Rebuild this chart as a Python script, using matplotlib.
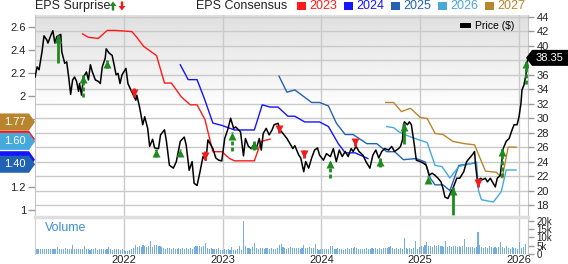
import numpy as np
import matplotlib
matplotlib.use('Agg')
from matplotlib import pyplot as plt
from matplotlib.patches import Polygon, Patch
from matplotlib.transforms import IdentityTransform, offset_copy, blended_transform_factory

plt.rcParams['font.family'] = ['Liberation Sans', 'DejaVu Sans']

# ---- data (decimal years) ----
price_t = [2021.10, 2021.12, 2021.14, 2021.17, 2021.19, 2021.22, 2021.23, 2021.26, 2021.28, 2021.30,
           2021.32, 2021.36, 2021.37, 2021.40, 2021.42, 2021.44, 2021.46, 2021.48, 2021.50, 2021.52,
           2021.54, 2021.55, 2021.57, 2021.59, 2021.62, 2021.64, 2021.66, 2021.68, 2021.71, 2021.74,
           2021.76, 2021.78, 2021.81, 2021.82, 2021.85, 2021.88, 2021.90, 2021.92, 2021.94, 2021.96,
           2021.98, 2022.02, 2022.04, 2022.07, 2022.12, 2022.13, 2022.16, 2022.19, 2022.21, 2022.24,
           2022.26, 2022.29, 2022.31, 2022.35, 2022.37, 2022.41, 2022.43, 2022.46, 2022.50, 2022.53,
           2022.57, 2022.61, 2022.63, 2022.66, 2022.69, 2022.71, 2022.74, 2022.77, 2022.80, 2022.83,
           2022.85, 2022.88, 2022.90, 2022.93, 2022.96, 2022.99, 2023.02, 2023.05, 2023.08, 2023.11,
           2023.13, 2023.16, 2023.18, 2023.21, 2023.23, 2023.26, 2023.29, 2023.32, 2023.34, 2023.37,
           2023.39, 2023.41, 2023.44, 2023.47, 2023.50, 2023.52, 2023.56, 2023.58, 2023.61, 2023.65,
           2023.68, 2023.71, 2023.73, 2023.77, 2023.79, 2023.82, 2023.84, 2023.87, 2023.90, 2023.93,
           2023.96, 2023.98, 2024.02, 2024.05, 2024.09, 2024.12, 2024.15, 2024.18, 2024.21, 2024.24,
           2024.27, 2024.30, 2024.32, 2024.35, 2024.38, 2024.42, 2024.45, 2024.49, 2024.52, 2024.55,
           2024.58, 2024.61, 2024.64, 2024.68, 2024.71, 2024.74, 2024.78, 2024.80, 2024.82, 2024.83,
           2024.84, 2024.87, 2024.89, 2024.91, 2024.94, 2024.96, 2025.00, 2025.03, 2025.06, 2025.09,
           2025.12, 2025.15, 2025.18, 2025.21, 2025.23, 2025.25, 2025.28, 2025.31, 2025.33, 2025.37,
           2025.40, 2025.44, 2025.47, 2025.50, 2025.53, 2025.55, 2025.56, 2025.58, 2025.61, 2025.63,
           2025.66, 2025.68, 2025.71, 2025.73, 2025.76, 2025.78, 2025.81, 2025.82, 2025.84, 2025.87,
           2025.90, 2025.93, 2025.95, 2025.98, 2026.00, 2026.02, 2026.03, 2026.05, 2026.07, 2026.09]
price_v = [35.7, 37.1, 36.7, 39.2, 41.4, 40.8, 40.4, 41.5, 42.1, 40.4,
           41.3, 41.6, 39.2, 37.6, 37.8, 35.7, 33.3, 35.3, 35.7, 35.1,
           33.7, 34.8, 33.2, 35.7, 36.4, 35.3, 37.4, 36.4, 35.3, 35.1,
           34.8, 37.1, 38.3, 39.6, 39.0, 38.7, 37.4, 36.0, 36.2, 34.8,
           36.0, 36.9, 34.8, 33.9, 32.5, 33.2, 31.4, 29.1, 30.2, 28.6,
           26.1, 27.1, 25.9, 25.8, 27.7, 28.4, 26.8, 23.5, 23.1, 24.0,
           26.8, 27.4, 26.3, 22.8, 24.0, 21.0, 20.7, 22.6, 24.7, 24.2,
           27.0, 26.3, 25.8, 24.5, 24.2, 24.1, 27.2, 28.4, 30.0, 28.6,
           28.8, 28.4, 28.1, 24.8, 27.2, 26.1, 25.8, 26.5, 25.8, 27.2,
           25.6, 27.9, 28.6, 27.7, 28.4, 29.1, 29.3, 28.4, 27.9, 27.2,
           26.5, 25.8, 26.2, 24.9, 24.5, 22.6, 24.0, 23.1, 24.5, 25.6,
           25.9, 24.9, 24.2, 25.1, 24.7, 25.8, 24.0, 25.6, 24.7, 25.4,
           24.7, 25.8, 25.4, 26.1, 25.4, 24.9, 24.0, 23.1, 24.9, 25.6,
           24.5, 25.4, 25.8, 25.6, 26.1, 25.4, 25.8, 26.1, 27.0, 29.1,
           29.5, 29.1, 29.5, 29.1, 26.3, 24.2, 24.0, 23.8, 23.5, 22.1,
           22.4, 22.1, 21.7, 21.2, 20.3, 19.1, 18.9, 19.8, 20.3, 21.7,
           21.7, 22.6, 24.0, 24.5, 25.0, 25.4, 23.5, 21.2, 21.7, 21.5,
           21.7, 21.2, 21.7, 21.2, 20.5, 21.7, 22.1, 23.3, 25.8, 26.8,
           27.2, 28.4, 29.1, 29.1, 30.2, 32.1, 33.9, 34.6, 36.0, 38.35]
last_price = 38.35

cons_years = ['2023', '2024', '2025', '2026', '2027']
cons_colors = ['#ff1a1a', '#1414ff', '#2262b4', '#45a9dc', '#b8852e']
eps23_t = [2021.58, 2021.64, 2021.74, 2021.83, 2021.91, 2022.08, 2022.13, 2022.20, 2022.33, 2022.41, 2022.48,
           2022.58, 2022.67, 2022.74, 2022.82, 2022.90, 2022.99, 2023.07, 2023.12, 2023.32, 2023.39, 2023.48]
eps23_v = [2.54, 2.51, 2.50, 2.57, 2.57, 2.56, 2.51, 2.43, 2.35, 2.11, 2.11,
           1.99, 1.92, 1.92, 1.79, 1.51, 1.51, 1.45, 1.43, 1.43, 1.60, 1.62]
eps24_t = [2022.57, 2022.65, 2022.74, 2022.82, 2022.90, 2022.99, 2023.12, 2023.32, 2023.40, 2023.48,
           2023.56, 2023.66, 2023.73, 2023.83, 2023.98, 2024.07, 2024.17, 2024.24, 2024.34, 2024.47]
eps24_v = [2.27, 2.14, 2.14, 1.96, 1.76, 1.74, 1.70, 1.70, 1.92, 1.90,
           1.90, 1.82, 1.82, 1.77, 1.77, 1.73, 1.58, 1.50, 1.50, 1.45]
eps25_t = [2023.57, 2023.65, 2023.73, 2023.90, 2023.98, 2024.07, 2024.15, 2024.24, 2024.32, 2024.46, 2024.56,
           2024.66, 2024.74, 2024.83, 2024.96, 2025.05, 2025.10, 2025.15, 2025.23, 2025.30, 2025.39, 2025.55]
eps25_v = [2.17, 2.03, 2.05, 1.94, 1.94, 1.91, 1.76, 1.66, 1.66, 1.58, 1.58,
           1.51, 1.51, 1.44, 1.45, 1.42, 1.28, 1.22, 1.22, 1.17, 1.39, 1.41]
eps26_t = [2024.66, 2024.73, 2024.79, 2024.90, 2025.00, 2025.07, 2025.15, 2025.22, 2025.30, 2025.39,
           2025.57, 2025.59, 2025.62, 2025.74, 2025.82, 2025.87, 2025.97]
eps26_v = [1.73, 1.72, 1.68, 1.64, 1.61, 1.59, 1.39, 1.38, 1.28, 1.38,
           1.42, 1.17, 1.09, 1.07, 1.16, 1.35, 1.35]
eps27_t = [2024.65, 2024.73, 2024.81, 2024.90, 2025.00, 2025.07, 2025.15, 2025.23, 2025.33, 2025.45,
           2025.55, 2025.66, 2025.77, 2025.83, 2025.89, 2025.97]
eps27_v = [1.94, 1.94, 1.86, 1.89, 1.81, 1.80, 1.67, 1.66, 1.60, 1.58,
           1.57, 1.34, 1.33, 1.28, 1.55, 1.55]
# current consensus flags
flag_vals = [1.62, 1.60, 1.44, 1.40, 1.77]       # 2023, 2026, 2024, 2025, 2027 (draw order)
flag_cols = ['#ff1a1a', '#45a9dc', '#1414ff', '#2262b4', '#b8852e']
flag_text = ['', '1.60', '', '1.40', '1.77']

# EPS surprise arrows (price levels)
up_t = [2021.33, 2021.58, 2021.83, 2022.32, 2022.57, 2023.09, 2023.32, 2024.09, 2024.59, 2024.84,
        2025.08, 2025.33, 2025.83, 2026.07]
up_head = [41.5, 36.0, 38.1, 25.8, 25.8, 28.1, 26.8, 24.2, 24.5, 29.3, 22.0, 20.5, 25.9, 38.1]
up_base = [37.6, 33.0, 37.0, 24.7, 24.8, 25.5, 25.6, 21.7, 23.3, 26.5, 21.0, 16.6, 21.9, 34.8]
up_solid = [True, False, False, False, False, False, False, False, False, True, False, True, False, False]
down_t = [2022.10, 2022.82, 2023.57, 2023.82, 2024.34, 2025.58]
down_top = [34.2, 25.4, 28.8, 25.6, 27.1, 21.7]
down_tip = [33.0, 24.2, 27.9, 24.5, 26.1, 20.5]

# weekly volume (thousands)
vol_k = [4.6, 3.0, 3.2, 2.8, 3.1, 3.0, 2.9, 3.3, 3.0, 2.8, 3.2, 3.1, 4.0, 3.0, 2.9, 3.2, 3.4, 3.0, 2.8, 3.1,
         5.6, 3.2, 3.0, 2.9, 3.3, 3.1, 5.0, 2.8, 3.0, 2.7, 3.2, 2.9, 3.4, 2.6, 3.0, 2.8, 3.1, 2.7, 3.0, 4.4,
         2.9, 2.6, 3.0, 2.8, 3.2, 2.7, 2.9, 2.2, 1.9, 2.1, 2.4, 3.0, 3.6, 5.6, 4.2, 4.8, 4.4, 5.3, 4.6, 4.1,
         5.0, 8.0, 4.4, 5.2, 5.4, 5.0, 4.6, 4.0, 3.6, 3.2, 3.8, 3.4, 3.0, 3.6, 3.3, 2.9, 3.5, 3.2, 3.7, 3.0,
         3.4, 3.1, 3.8, 3.3, 4.5, 4.8, 5.0, 4.7, 4.4, 4.9, 6.4, 3.5, 3.2, 3.4, 3.0, 3.3, 3.1, 3.5, 2.4, 2.2,
         2.8, 2.5, 2.9, 2.3, 4.0, 2.6, 2.2, 3.0, 5.0, 2.4, 20.0, 5.0, 3.4, 3.8, 3.2, 4.0, 6.4, 3.6, 3.3, 3.9,
         3.5, 3.2, 3.8, 3.4, 3.0, 3.6, 3.3, 3.1, 3.7, 5.6, 6.0, 4.0, 3.6, 3.2, 3.5, 4.2, 3.8, 3.4, 3.9, 3.6,
         3.3, 3.7, 5.6, 3.5, 3.8, 4.2, 3.4, 3.6, 6.0, 3.1, 2.6, 3.0, 2.8, 3.1, 2.9, 3.2, 5.0, 4.8, 3.2, 3.0,
         3.4, 2.8, 3.1, 2.7, 3.0, 3.6, 3.2, 3.8, 3.4, 4.0, 3.6, 3.2, 2.9, 3.3, 3.0, 3.6, 3.1, 2.8, 3.4, 3.2,
         3.5, 3.0, 3.6, 3.3, 3.9, 3.4, 3.6, 4.0, 5.0, 3.8, 3.3, 3.5, 3.1, 3.6, 3.2, 9.6, 3.4, 3.0, 3.6, 3.3,
         3.5, 8.0, 3.2, 4.2, 4.8, 4.4, 5.2, 7.0, 4.6, 5.0, 4.4, 5.6, 4.8, 5.3, 4.6, 5.0, 4.4, 7.6, 4.2, 4.8,
         4.4, 5.0, 4.6, 4.2, 4.9, 4.5, 4.8, 9.0, 4.4, 4.0, 4.3, 4.1, 3.9, 4.2, 13.6, 5.6, 4.0, 3.6, 4.4, 3.8,
         4.6, 4.0, 3.5, 4.2, 3.7, 4.4, 7.0, 4.2, 3.8, 4.6, 3.6, 3.3, 4.0, 3.4, 3.8, 3.2, 7.0, 3.6, 4.2, 6.0]
vol_t = 2021.10 + np.arange(len(vol_k)) / 52.18

years = [2022, 2023, 2024, 2025, 2026]
price_ticks = list(range(18, 45, 2))
price_hidden = [38]              # sits under the last-price flag
eps_ticks = [1.0, 1.2, 1.4, 1.6, 1.8, 2.0, 2.2, 2.4, 2.6]
eps_hidden = [1.4, 1.6, 1.8]    # sit under the consensus flags
vol_ticks = [0, 5, 10, 15, 20]

# ---- layout ----
W, H = 568, 264
fig = plt.figure(figsize=(W / 100, H / 100), dpi=100)
L, R = 35, 528
ax = fig.add_axes([L / W, 1 - 217 / H, (R - L) / W, 202 / H])
ax2 = ax.twinx()
axv = fig.add_axes([L / W, 1 - 254 / H, (R - L) / W, 37 / H])

xlim = (2021.099, 2026.091)
grid_c = '#cacaca'
tick_c = '#9a9a9a'
lab_c = '#222222'

ax.set_xlim(*xlim)
ax2.set_xlim(*xlim)
axv.set_xlim(*xlim)
ax.set_ylim(0.939, 2.705)
ax2.set_ylim(16.34, 44.28)
axv.set_ylim(0, 22.4)

# background gradient
g = 0.875 + 0.125 * np.clip(np.linspace(0, 1, 256) / 0.47, 0, 1)
ax.imshow(g[:, None], cmap='gray', vmin=0, vmax=1, extent=(0, 1, 0, 1), transform=ax.transAxes,
          aspect='auto', zorder=0, origin='upper', interpolation='bilinear')
ax.set_xlim(*xlim)
ax.set_ylim(0.939, 2.705)

# grid (horizontal follows price axis)
ax.hlines(price_ticks, 0, 1, transform=blended_transform_factory(ax.transAxes, ax2.transData),
          colors=grid_c, lw=1, zorder=0.5)
for y in years:
    ax.axvline(y, color=grid_c, lw=1, zorder=0.5)
    axv.axvline(y, color=grid_c, lw=1, zorder=0.5)

# consensus lines
for tt, vv, c in zip([eps23_t, eps24_t, eps25_t, eps26_t, eps27_t],
                     [eps23_v, eps24_v, eps25_v, eps26_v, eps27_v], cons_colors):
    ax.plot(tt, vv, color=c, lw=1.0, zorder=2)

# price
ax2.plot(price_t, price_v, color='black', lw=1.1, zorder=2)

# surprise arrows
green = '#1f8a1f'
red = '#f01c1c'
head_dn = offset_copy(ax2.transData, fig=fig, y=-4, units='dots')
head_up = offset_copy(ax2.transData, fig=fig, y=4, units='dots')
for t, h, b, s in zip(up_t, up_head, up_base, up_solid):
    ax2.plot([t, t], [b, h], color=green, lw=2.0, zorder=4, solid_capstyle='butt', dash_capstyle='butt',
             linestyle='-' if s else (0, (1.4, 0.8)))
    ax2.plot([t], [h], marker='^', ms=5.8, color=green, mec='none', transform=head_dn, zorder=5)
for t, tp, tip in zip(down_t, down_top, down_tip):
    ax2.plot([t, t], [tp, tip], color=red, lw=2.0, zorder=4, solid_capstyle='butt')
    ax2.plot([t], [tip], marker='v', ms=5.8, color=red, mec='none', transform=head_up, zorder=5)

# ticks and spines
ax.set_yticks(eps_ticks)
ax.set_yticklabels(['' if v in eps_hidden else '{:g}'.format(v) for v in eps_ticks])
ax.set_xticks(years)
ax.tick_params(axis='x', length=0, labelbottom=False)
ax.tick_params(axis='y', length=5, width=1, color=tick_c, labelsize=8, labelcolor=lab_c, pad=1.5)
ax2.set_yticks(price_ticks)
ax2.set_yticklabels(['' if v in price_hidden else str(v) for v in price_ticks])
ax2.tick_params(axis='y', length=4, width=1, color=tick_c, labelsize=8, labelcolor=lab_c, pad=2)
for sp in ['top', 'bottom']:
    ax.spines[sp].set_visible(False)
ax.spines['left'].set_color('#c4c4c4')
ax.spines['right'].set_color('#c4c4c4')
for sp in ax2.spines.values():
    sp.set_visible(False)

axv.bar(vol_t, vol_k, width=0.011, color='#74aee0', edgecolor='none', zorder=2)
axv.set_yticks(vol_ticks)
axv.set_yticklabels(['0', '5k', '10k', '15k', '20k'])
axv.yaxis.tick_right()
axv.tick_params(axis='y', length=4, width=1, color=tick_c, labelsize=7, labelcolor=lab_c, pad=2)
axv.set_xticks(years)
axv.set_xticklabels([str(y) for y in years])
axv.tick_params(axis='x', length=0, labelsize=8, labelcolor=lab_c, pad=0.5)
axv.spines['bottom'].set_visible(False)
axv.spines['top'].set_color('#dedede')
axv.spines['top'].set_linewidth(2.5)
axv.spines['left'].set_color('#d0d0d0')
axv.spines['right'].set_color('#c4c4c4')
axv.set_facecolor('white')
axv.text(0.021, 0.7, 'Volume', transform=axv.transAxes, color='#3b8fd3', fontsize=9, va='center')

# price legend
ax2.legend(handles=[Patch(facecolor='black', edgecolor='none')], labels=['Price ($)'], loc='upper right',
           frameon=False, fontsize=7.5, handlelength=1.0, handleheight=0.45, handletextpad=0.4,
           borderaxespad=0.2, bbox_to_anchor=(0.985, 1.0))

# header
ID = IdentityTransform()
fig.text(35, H - 6, 'EPS Surprise', transform=ID, fontsize=9, color=lab_c, va='center')


def block_arrow(xc, ytip, up, color):
    d = -1 if up else 1
    hw, hh, sw, ln = 3.5, 4.5, 1.2, 9
    pts = [(xc, ytip), (xc - hw, ytip + d * hh), (xc - sw, ytip + d * hh), (xc - sw, ytip + d * ln),
           (xc + sw, ytip + d * ln), (xc + sw, ytip + d * hh), (xc + hw, ytip + d * hh)]
    fig.add_artist(Polygon(pts, closed=True, transform=ID, fc=color, ec='none', zorder=10))


block_arrow(113, H - 1.5, True, green)
block_arrow(122, H - 10.5, False, red)

fig.text(196, H - 6, 'EPS Consensus', transform=ID, fontsize=9, color=lab_c, va='center')
for i, (yr, c) in enumerate(zip(cons_years, cons_colors)):
    x0 = 297 + 47 * i
    fig.add_artist(Polygon([(x0, H - 2), (x0 + 9, H - 2), (x0 + 9, H - 10), (x0, H - 10)], closed=True,
                           transform=ID, fc=c, ec='none', zorder=10))
    fig.text(x0 + 12.5, H - 6, yr, transform=ID, fontsize=9, color=c, va='center')


# value flags
def flag(x0, x1, xtip, yc, h, color, text, tx):
    pts = [(x0, yc - h / 2), (x1, yc - h / 2), (xtip, yc), (x1, yc + h / 2), (x0, yc + h / 2)]
    fig.add_artist(Polygon(pts, closed=True, transform=ID, fc=color, ec='none', zorder=10))
    if text:
        fig.text(tx, yc, text, transform=ID, color='white', fontsize=8, ha='center', va='center', zorder=11)


for v, c, txt in zip(flag_vals, flag_cols, flag_text):
    yc = ax.transData.transform((2022, v))[1]
    flag(0, 29, 35, yc, 17, c, txt, 14.5)
yc = ax2.transData.transform((2022, last_price))[1]
flag(568, 532, 526, yc, 16, 'black', '{:.2f}'.format(last_price), 550)

fig.savefig('out.png', dpi=100)
